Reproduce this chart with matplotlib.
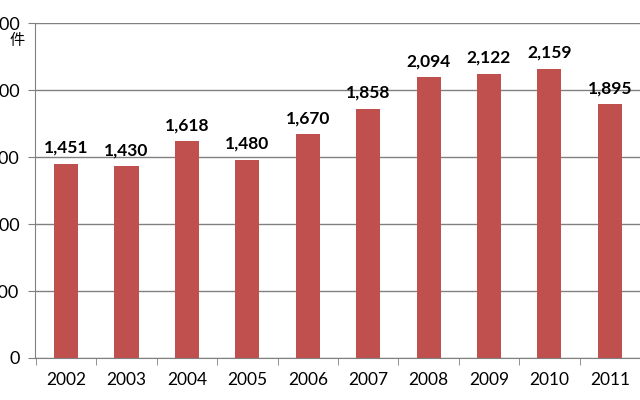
import matplotlib
matplotlib.use("agg")
import matplotlib.pyplot as plt
import numpy as np

years = ["2002", "2003", "2004", "2005", "2006", "2007", "2008", "2009", "2010", "2011"]
counts = [1451, 1430, 1618, 1480, 1670, 1858, 2094, 2122, 2159, 1895]
y_ticks = [0, 500, 1000, 1500, 2000, 2500]
y_tick_labels = ["0", "500", "1,000", "1,500", "2,000", "2,500"]

plt.rcParams["font.family"] = "Lato"
fig = plt.figure(figsize=(6.4, 4.0), dpi=100)
ax = fig.add_axes([35 / 640, 1 - 358 / 400, 1 - 35 / 640, (358 - 23) / 400])

x = np.arange(len(years))
ax.bar(x, counts, width=0.4, color="#C0504D", zorder=2)
for xi, v in zip(x, counts):
    ax.text(xi, v + 60, f"{v:,}", ha="center", va="bottom",
            fontsize=12.5, fontweight="bold", color="black")

ax.set_xlim(-0.516, 9.24)
ax.set_ylim(0, 2500)
ax.set_yticks(y_ticks)
ax.set_yticklabels(y_tick_labels, fontsize=13)
ax.set_xticks(x)
ax.set_xticklabels(years, fontsize=12.5)
ax.tick_params(axis="x", length=0, pad=10)
ax.set_xticks(np.arange(-0.5, len(years), 1.0), minor=True)
ax.tick_params(axis="x", which="minor", length=5, color="#808080")
ax.tick_params(axis="y", length=5, color="#808080", pad=6)
ax.grid(axis="y", color="#808080", linewidth=1, zorder=0)
for side in ["top", "right"]:
    ax.spines[side].set_visible(False)
ax.spines["left"].set_color("#808080")
ax.spines["bottom"].set_color("#808080")

fig.text(17 / 640, 1 - 40 / 400, "件", fontsize=11, ha="center", va="center",
         fontfamily="Noto Sans CJK JP")

fig.savefig("out.png", dpi=100)
